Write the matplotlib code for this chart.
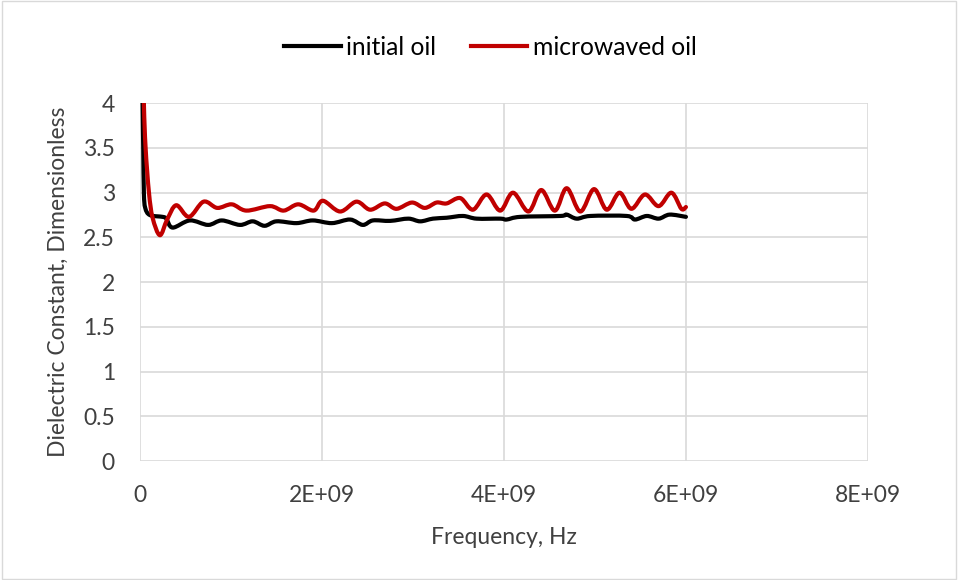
import matplotlib
matplotlib.use("Agg")
import matplotlib.pyplot as plt
from matplotlib.patches import Rectangle, PathPatch
from matplotlib.path import Path
from matplotlib.lines import Line2D

# frequency in GHz-units (x 1e9 Hz), dielectric constant readings
freq_initial = [0.02, 0.03, 0.037, 0.044, 0.059, 0.11, 0.25, 0.29, 0.36, 0.55,
                0.75, 0.90, 1.10, 1.24, 1.37, 1.50, 1.72, 1.90, 2.11, 2.31,
                2.45, 2.56, 2.75, 2.95, 3.08, 3.22, 3.37, 3.55, 3.70, 3.96,
                4.03, 4.18, 4.62, 4.69, 4.80, 4.95, 5.35, 5.44, 5.57, 5.70,
                5.82, 6.00]
eps_initial = [5.0, 4.0, 3.5, 3.0, 2.83, 2.75, 2.73, 2.71, 2.61, 2.69,
               2.64, 2.69, 2.64, 2.68, 2.63, 2.68, 2.66, 2.69, 2.66, 2.70,
               2.64, 2.69, 2.685, 2.71, 2.68, 2.71, 2.72, 2.74, 2.71, 2.71,
               2.70, 2.73, 2.74, 2.755, 2.71, 2.74, 2.74, 2.70, 2.74, 2.71,
               2.755, 2.73]

freq_micro = [0.03, 0.044, 0.063, 0.10, 0.14, 0.22, 0.30, 0.40, 0.54, 0.70,
              0.85, 1.01, 1.17, 1.43, 1.58, 1.74, 1.91, 2.01, 2.20, 2.38,
              2.53, 2.69, 2.82, 2.99, 3.13, 3.26, 3.37, 3.52, 3.66, 3.81,
              3.96, 4.10, 4.27, 4.41, 4.56, 4.69, 4.84, 4.99, 5.13, 5.27,
              5.40, 5.55, 5.70, 5.84, 5.95, 6.00]
eps_micro = [4.8, 4.0, 3.5, 3.0, 2.72, 2.525, 2.70, 2.86, 2.73, 2.90,
             2.83, 2.87, 2.80, 2.85, 2.80, 2.87, 2.80, 2.91, 2.79, 2.90,
             2.81, 2.88, 2.82, 2.89, 2.83, 2.89, 2.88, 2.94, 2.81, 2.98,
             2.80, 3.00, 2.79, 3.03, 2.80, 3.05, 2.79, 3.04, 2.81, 3.00,
             2.82, 2.98, 2.85, 3.00, 2.82, 2.84]

x_ticks = [0, 2e9, 4e9, 6e9, 8e9]
x_tick_labels = ["0", "2E+09", "4E+09", "6E+09", "8E+09"]
y_ticks = [0, 0.5, 1, 1.5, 2, 2.5, 3, 3.5, 4]
y_tick_labels = ["0", "0.5", "1", "1.5", "2", "2.5", "3", "3.5", "4"]

plt.rcParams["font.family"] = ["Lato", "DejaVu Sans"]
text_color = "#404040"
grid_color = "#d9d9d9"


def smooth_path(xs, ys):
    """Cubic Bezier path through every point (Catmull-Rom tangents)."""
    pts = list(zip(xs, ys))
    n = len(pts)
    verts = [pts[0]]
    codes = [Path.MOVETO]
    for i in range(n - 1):
        p0 = pts[max(i - 1, 0)]
        p1 = pts[i]
        p2 = pts[i + 1]
        p3 = pts[min(i + 2, n - 1)]
        c1 = (p1[0] + (p2[0] - p0[0]) / 6, p1[1] + (p2[1] - p0[1]) / 6)
        c2 = (p2[0] - (p3[0] - p1[0]) / 6, p2[1] - (p3[1] - p1[1]) / 6)
        verts += [c1, c2, p2]
        codes += [Path.CURVE4] * 3
    return Path(verts, codes)


fig = plt.figure(figsize=(9.58, 5.8), dpi=100)
fig.patches.append(Rectangle((0.002, 0.002), 0.996, 0.996, transform=fig.transFigure,
                             fill=False, edgecolor=grid_color, linewidth=1))
ax = fig.add_axes([0.146, 0.205, 0.760, 0.617])

series = [
    (freq_initial, eps_initial, "black", "initial oil"),
    (freq_micro, eps_micro, "#c00000", "microwaved oil"),
]
handles = []
for f, eps, col, name in series:
    path = smooth_path([v * 1e9 for v in f], eps)
    ax.add_patch(PathPatch(path, fill=False, edgecolor=col, lw=3.0,
                           joinstyle="round", capstyle="round"))
    handles.append(Line2D([], [], color=col, lw=3.0, label=name))

ax.set_xlim(0, 8e9)
ax.set_ylim(0, 4)
ax.set_xticks(x_ticks)
ax.set_xticklabels(x_tick_labels)
ax.set_yticks(y_ticks)
ax.set_yticklabels(y_tick_labels)
ax.grid(True, color=grid_color, linewidth=1.2)
ax.set_axisbelow(True)
for s in ax.spines.values():
    s.set_visible(False)
ax.tick_params(length=0, labelsize=16.5, colors=text_color)
ax.tick_params(axis="x", pad=17)
ax.tick_params(axis="y", pad=18)

ax.set_xlabel("Frequency, Hz", fontsize=16.5, color=text_color)
ax.set_ylabel("Dielectric Constant, Dimensionless", fontsize=16.5, color=text_color)
ax.xaxis.set_label_coords(0.5, -0.185)
ax.yaxis.set_label_coords(-0.097, 0.5)

leg = fig.legend(handles=handles, loc="center", bbox_to_anchor=(0.512, 0.918), ncol=2,
                 frameon=False, fontsize=17.7, handlelength=2.3, handletextpad=0.22,
                 columnspacing=1.4)
for t in leg.get_texts():
    t.set_color("black")

fig.savefig("out.png", dpi=100)
